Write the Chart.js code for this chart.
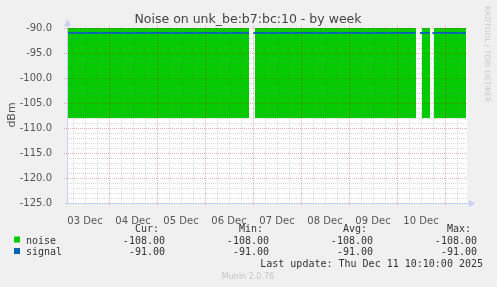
<!DOCTYPE html>
<html>
<head>
<meta charset="utf-8">
<script src="https://cdn.jsdelivr.net/npm/chart.js@4/dist/chart.umd.min.js"></script>
<style>
  html, body { margin: 0; padding: 0; background: #F0F0F0; }
  canvas { display: block; }
</style>
</head>
<body>
<canvas id="noiseChart" width="497" height="287"></canvas>
<script>
// hours since 03 Dec 00:00
const noiseHours = [3, 94, 94.5, 97, 177.5, 178, 180.5, 184.5, 185, 186.5, 202.5];
const noiseValues = [-108, -108, null, -108, -108, null, -108, -108, null, -108, -108];
const signalHours = [3, 94, 94.5, 96.2, 177.3, 178, 179.5, 184.5, 185, 185.7, 202.5];
const signalValues = [-91, -91, null, -91, -91, null, -91, -91, null, -91, -91];

const dayLabels = ['03 Dec', '04 Dec', '05 Dec', '06 Dec', '07 Dec', '08 Dec', '09 Dec', '10 Dec'];
const dayLabelHours = [12, 36, 60, 84, 108, 132, 156, 180];

const legendRows = [
    { name: 'noise', color: '#00CC00', cur: '-108.00', min: '-108.00', avg: '-108.00', max: '-108.00' },
    { name: 'signal', color: '#0066B3', cur: '-91.00', min: '-91.00', avg: '-91.00', max: '-91.00' }
];

const xMin = 3, xMax = 203;
const yMin = -125, yMax = -90;

const minorGrid = 'rgba(130,130,130,0.3)';
const majorGrid = 'rgba(210,0,0,0.3)';
const axisColor = '#c9cef5';

function hLine(ctx, x1, x2, y) {
    const yy = Math.round(y) + 0.5;
    ctx.beginPath(); ctx.moveTo(x1, yy); ctx.lineTo(x2, yy); ctx.stroke();
}
function vLine(ctx, x, y1, y2) {
    const xx = Math.round(x) + 0.5;
    ctx.beginPath(); ctx.moveTo(xx, y1); ctx.lineTo(xx, y2); ctx.stroke();
}

const muninPlugin = {
    id: 'munin',
    beforeDraw(chart) {
        const { ctx, chartArea: { left, top, right, bottom } } = chart;
        ctx.save();
        ctx.fillStyle = '#F0F0F0';
        ctx.fillRect(0, 0, chart.width, chart.height);
        ctx.fillStyle = '#FFFFFF';
        ctx.fillRect(left, top, right - left, bottom - top);
        ctx.restore();
    },
    afterDatasetsDraw(chart) {
        const { ctx, chartArea: { left, top, right, bottom } } = chart;
        const xs = chart.scales.x, ys = chart.scales.y;
        ctx.save();
        ctx.lineWidth = 1;
        ctx.setLineDash([1, 1]);
        // minor grid
        ctx.strokeStyle = minorGrid;
        for (let v = yMin + 1; v < yMax; v++) {
            if (v % 5 !== 0) hLine(ctx, left, right, ys.getPixelForValue(v));
        }
        for (let h = 6; h < xMax; h += 6) {
            if (h % 24 !== 0) vLine(ctx, xs.getPixelForValue(h), top - 2, bottom);
        }
        // major grid
        ctx.strokeStyle = majorGrid;
        for (let v = yMin + 5; v <= yMax; v += 5) {
            hLine(ctx, left - 3, right, ys.getPixelForValue(v));
        }
        for (let h = 24; h < xMax; h += 24) {
            vLine(ctx, xs.getPixelForValue(h), top - 2, bottom + 3);
        }
        // axes
        ctx.setLineDash([]);
        ctx.strokeStyle = axisColor;
        ctx.fillStyle = axisColor;
        vLine(ctx, left, top - 4, bottom + 2);
        hLine(ctx, left - 2, right + 3, bottom);
        ctx.beginPath();
        ctx.moveTo(left - 3, top - 2); ctx.lineTo(left + 4, top - 2); ctx.lineTo(left + 0.5, top - 9); ctx.closePath();
        ctx.fill();
        ctx.beginPath();
        ctx.moveTo(right + 2, bottom - 3); ctx.lineTo(right + 2, bottom + 4); ctx.lineTo(right + 8, bottom + 0.5); ctx.closePath();
        ctx.fill();
        ctx.restore();
    },
    afterDraw(chart) {
        const { ctx } = chart;
        ctx.save();
        // title
        ctx.fillStyle = '#444';
        ctx.font = '12.5px "DejaVu Sans"';
        ctx.textAlign = 'center';
        ctx.textBaseline = 'alphabetic';
        ctx.fillText('Noise on unk_be:b7:bc:10 - by week', 248, 23);
        // y title
        ctx.save();
        ctx.translate(15, 115);
        ctx.rotate(-Math.PI / 2);
        ctx.font = '11px "DejaVu Sans"';
        ctx.fillStyle = '#555';
        ctx.fillText('dBm', 0, 0);
        ctx.restore();
        // rrdtool credit
        ctx.save();
        ctx.translate(485, 54);
        ctx.rotate(Math.PI / 2);
        ctx.font = '7.5px "DejaVu Sans"';
        ctx.fillStyle = '#c8c8c8';
        ctx.fillText('RRDTOOL / TOBI OETIKER', 0, 0);
        ctx.restore();
        // legend
        ctx.font = '10px "DejaVu Sans Mono"';
        ctx.fillStyle = '#333';
        ctx.textAlign = 'right';
        const cols = [165, 269, 373, 477];
        ['Cur:', 'Min:', 'Avg:', 'Max:'].forEach((h, i) => ctx.fillText(h, cols[i] - 6, 231.5));
        legendRows.forEach((row, r) => {
            const y = 243.5 + r * 11.5;
            ctx.fillStyle = row.color;
            ctx.fillRect(14, y - 7, 6, 6);
            ctx.fillStyle = '#333';
            ctx.textAlign = 'left';
            ctx.fillText(row.name, 26, y);
            ctx.textAlign = 'right';
            [row.cur, row.min, row.avg, row.max].forEach((v, i) => ctx.fillText(v, cols[i], y));
        });
        ctx.fillText('Last update: Thu Dec 11 10:10:00 2025', 483, 267);
        // footer
        ctx.textAlign = 'center';
        ctx.font = '8px "DejaVu Sans"';
        ctx.fillStyle = '#c4c4c4';
        ctx.fillText('Munin 2.0.76', 248, 279);
        ctx.restore();
    }
};

new Chart(document.getElementById('noiseChart'), {
    type: 'line',
    data: {
        datasets: [
            {
                label: 'noise',
                data: noiseHours.map((h, i) => ({ x: h, y: noiseValues[i] })),
                fill: 'end',
                backgroundColor: '#00CC00',
                borderWidth: 0,
                pointRadius: 0,
                spanGaps: false,
                order: 2
            },
            {
                label: 'signal',
                data: signalHours.map((h, i) => ({ x: h, y: signalValues[i] })),
                fill: false,
                borderColor: '#0066B3',
                borderWidth: 2,
                pointRadius: 0,
                spanGaps: false,
                order: 1
            }
        ]
    },
    options: {
        responsive: false,
        animation: false,
        devicePixelRatio: 1,
        layout: { padding: { top: 28, right: 30, left: 0, bottom: 0 } },
        scales: {
            x: {
                type: 'linear',
                min: xMin,
                max: xMax,
                grid: { display: false },
                border: { display: false },
                afterBuildTicks(scale) {
                    scale.ticks = dayLabelHours.map(v => ({ value: v }));
                },
                afterFit(scale) { scale.height = 84; },
                ticks: {
                    autoSkip: false,
                    maxRotation: 0,
                    padding: 4,
                    color: '#555',
                    font: { family: 'DejaVu Sans', size: 10 },
                    callback(v) {
                        const i = dayLabelHours.indexOf(v);
                        return i >= 0 ? dayLabels[i] : '';
                    }
                }
            },
            y: {
                min: yMin,
                max: yMax,
                grid: { display: false },
                border: { display: false },
                afterFit(scale) { scale.width = 67; },
                ticks: {
                    stepSize: 5,
                    padding: 7,
                    color: '#555',
                    font: { family: 'DejaVu Sans', size: 10 },
                    callback: v => v.toFixed(1)
                }
            }
        },
        plugins: {
            legend: { display: false },
            title: { display: false },
            tooltip: { enabled: false }
        }
    },
    plugins: [muninPlugin]
});
</script>
</body>
</html>
